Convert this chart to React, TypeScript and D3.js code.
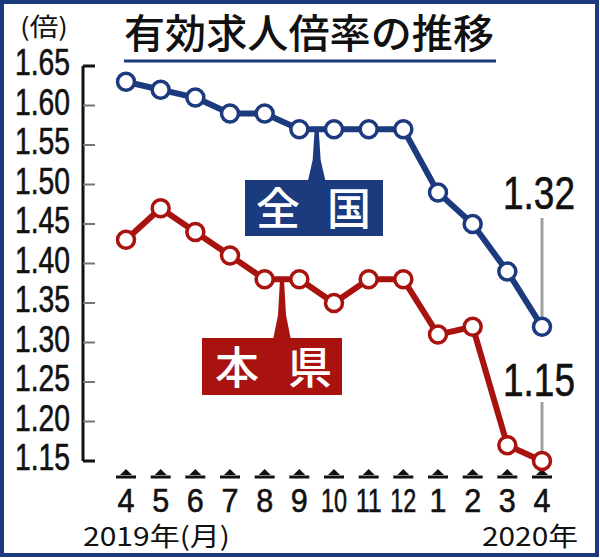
import React from "react";
import * as d3 from "d3";

const months = ["4", "5", "6", "7", "8", "9", "10", "11", "12", "1", "2", "3", "4"];
const national = [1.63, 1.62, 1.61, 1.59, 1.59, 1.57, 1.57, 1.57, 1.57, 1.49, 1.45, 1.39, 1.32];
const prefecture = [1.43, 1.47, 1.44, 1.41, 1.38, 1.38, 1.35, 1.38, 1.38, 1.31, 1.32, 1.17, 1.15];
const yTicks = [1.65, 1.6, 1.55, 1.5, 1.45, 1.4, 1.35, 1.3, 1.25, 1.2, 1.15];
const title = "有効求人倍率の推移";
const unitLabel = "(倍)";
const startYear = "2019年(月)";
const endYear = "2020年";
const seriesNames = ["全国", "本県"];

const NAVY = "#1c3a7e";
const RED = "#a8120f";
const W = 600;
const H = 558;

export default function App() {
  const x = d3.scaleLinear().domain([0, months.length - 1]).range([126, 542]);
  const y = d3.scaleLinear().domain([1.15, 1.65]).range([461, 66]);
  const line = d3
    .line<number>()
    .x((_, i) => x(i))
    .y((d) => y(d));

  const numFont = "'Liberation Sans', Arial, sans-serif";
  const jpFont = "'Noto Sans CJK JP', sans-serif";

  const natTipX = (x(5) + x(6)) / 2;
  const prefTipX = (x(4) + x(5)) / 2;
  const last = months.length - 1;

  return (
    <svg
      width={W}
      height={H}
      style={{ position: "absolute", left: 0, top: 0, background: "#fff" }}
    >
      <rect x={2} y={2} width={W - 5} height={H - 5} fill="#fff" stroke={NAVY} strokeWidth={4} />

      {/* title */}
      <text x={124} y={48} fontFamily={jpFont} fontSize={40} fontWeight={500} fill="#111" textLength={370} lengthAdjust="spacingAndGlyphs">
        {title}
      </text>
      <line x1={124} x2={496} y1={61} y2={61} stroke={NAVY} strokeWidth={3} />

      {/* unit */}
      <text x={20} y={36} fontFamily={jpFont} fontSize={25} fill="#111" textLength={48} lengthAdjust="spacingAndGlyphs">
        {unitLabel}
      </text>

      {/* y axis */}
      <line x1={83} x2={83} y1={y(1.65)} y2={y(1.15)} stroke="#111" strokeWidth={3} />
      {yTicks.map((t, i) => {
        const end = i === 0 || i === yTicks.length - 1;
        return (
          <g key={t}>
            <line
              x1={83}
              x2={95}
              y1={y(t)}
              y2={y(t)}
              stroke={end ? "#111" : "#777"}
              strokeWidth={end ? 3 : 2}
            />
            <text
              x={15}
              y={y(t) + 9}
              fontFamily={numFont}
              fontSize={36}
              fill="#111"
              stroke="#111"
              strokeWidth={0.6}
              textLength={55}
              lengthAdjust="spacingAndGlyphs"
            >
              {t.toFixed(2)}
            </text>
          </g>
        );
      })}

      {/* x ticks and labels */}
      {months.map((m, i) => (
        <g key={i}>
          <path
            d={`M${x(i) - 6},${475} L${x(i)},${469} L${x(i) + 6},${475} Z`}
            fill="#111"
          />
          <line x1={x(i) - 10} x2={x(i) + 10} y1={477} y2={477} stroke="#111" strokeWidth={3} />
          <text
            x={x(i)}
            y={512}
            fontFamily={numFont}
            fontSize={34}
            fill="#111"
            stroke="#111"
            strokeWidth={0.6}
            textAnchor="middle"
            textLength={m.length > 1 ? 26 : 17}
            lengthAdjust="spacingAndGlyphs"
          >
            {m}
          </text>
        </g>
      ))}
      <text x={83} y={546} fontFamily={jpFont} fontSize={26} fill="#111" textLength={147} lengthAdjust="spacingAndGlyphs">
        {startYear}
      </text>
      <text x={482} y={546} fontFamily={jpFont} fontSize={26} fill="#111" textLength={96} lengthAdjust="spacingAndGlyphs">
        {endYear}
      </text>

      {/* annotation leader lines */}
      <line x1={x(last)} x2={x(last)} y1={218} y2={y(national[last]) - 8} stroke="#a0a0a0" strokeWidth={3} />
      <line x1={x(last)} x2={x(last)} y1={402} y2={y(prefecture[last]) - 8} stroke="#a0a0a0" strokeWidth={3} />
      <text x={503} y={209} fontFamily={numFont} fontSize={46} fill="#111" stroke="#111" strokeWidth={0.6} textLength={72} lengthAdjust="spacingAndGlyphs">
        {national[last].toFixed(2)}
      </text>
      <text x={503} y={396} fontFamily={numFont} fontSize={46} fill="#111" stroke="#111" strokeWidth={0.6} textLength={72} lengthAdjust="spacingAndGlyphs">
        {prefecture[last].toFixed(2)}
      </text>

      {/* series label boxes */}
      <path
        d={`M${natTipX - 2},${y(1.57)} L${natTipX + 2},${y(1.57)} L${natTipX + 4},${160} L${natTipX + 9},${182} L${natTipX - 9},${182} L${natTipX - 4},${160} Z`}
        fill={NAVY}
      />
      <rect x={245} y={180} width={138} height={56} fill={NAVY} />
      <text x={278} y={225} fontFamily={jpFont} fontSize={44} fontWeight={500} fill="#fff" textAnchor="middle">
        {seriesNames[0][0]}
      </text>
      <text x={349} y={225} fontFamily={jpFont} fontSize={44} fontWeight={500} fill="#fff" textAnchor="middle">
        {seriesNames[0][1]}
      </text>

      <path
        d={`M${prefTipX - 2},${y(1.38)} L${prefTipX + 2},${y(1.38)} L${prefTipX + 4},${315} L${prefTipX + 9},${340} L${prefTipX - 9},${340} L${prefTipX - 4},${315} Z`}
        fill={RED}
      />
      <rect x={202} y={338} width={140} height={57} fill={RED} />
      <text x={237} y={384} fontFamily={jpFont} fontSize={44} fontWeight={500} fill="#fff" textAnchor="middle">
        {seriesNames[1][0]}
      </text>
      <text x={310} y={384} fontFamily={jpFont} fontSize={44} fontWeight={500} fill="#fff" textAnchor="middle">
        {seriesNames[1][1]}
      </text>

      {/* lines */}
      <path d={line(national) || ""} fill="none" stroke={NAVY} strokeWidth={6} strokeLinejoin="round" />
      <path d={line(prefecture) || ""} fill="none" stroke={RED} strokeWidth={6} strokeLinejoin="round" />
      {national.map((v, i) => (
        <circle key={"n" + i} cx={x(i)} cy={y(v)} r={8.5} fill="#fff" stroke={NAVY} strokeWidth={3.5} />
      ))}
      {prefecture.map((v, i) => (
        <circle key={"p" + i} cx={x(i)} cy={y(v)} r={8.5} fill="#fff" stroke={RED} strokeWidth={3.5} />
      ))}
    </svg>
  );
}
